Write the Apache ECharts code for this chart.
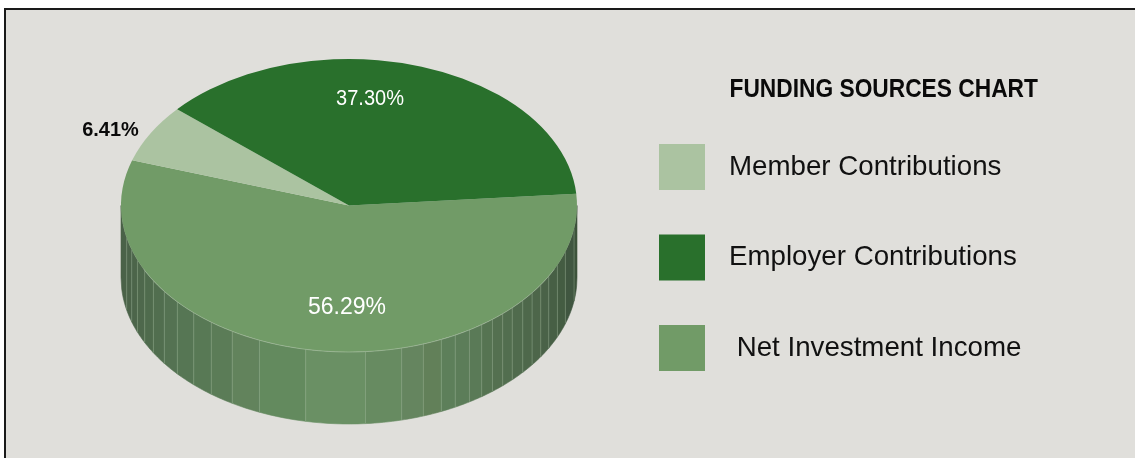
<!DOCTYPE html>
<html><head><meta charset="utf-8">
<style>html,body{margin:0;padding:0;background:#fff}#c{width:1135px;height:458px}</style>
<script src="https://cdn.jsdelivr.net/npm/echarts@6/dist/echarts.min.js"></script>
</head><body><div id="c"></div>
<script>
const chartTitle = 'FUNDING SOURCES CHART';
const categories = ['Member Contributions', 'Employer Contributions', ' Net Investment Income'];
const shares = [6.41, 37.30, 56.29];
const shareLabels = ['6.41%', '37.30%', '56.29%'];
const sliceColors = ['#ABC3A1', '#29702C', '#719B67'];
const labelColors = ['#0a0a0a', '#ffffff', '#ffffff'];
const labelWeights = ['bold', 'normal', 'normal'];
const labelSizes = [21, 22, 23];
const labelScaleX = [0.95, 0.91, 1];
// label anchors, as offsets from the pie's centre
const labelDx = [-238.5, 21, -2];
const labelDy = [-75, -107, 102];
// decorative wall facets of the 3D rim: edges as fractions of the radius, shade per facet
const facetEdges = [-1,-.975,-.953,-.928,-.896,-.858,-.81,-.753,-.681,-.604,-.512,-.393,-.19,.072,.231,.326,.405,.466,.528,.582,.629,.674,.716,.762,.803,.841,.876,.914,.949,.987,1];
const facetShades = ['#4A6248','#4B6349','#4C654A','#4E684C','#4F6B4D','#516E4F','#547252','#567654','#587955','#5B7C57','#62835C','#638A5E','#6A9064','#678B61','#65855F','#628059','#5D7F5A','#5C7D59','#5A7A57','#567452','#547050','#526E4F','#506B4D','#4E684B','#4D664A','#4A6248','#475F45','#445C42','#405640','#3D533B'];

const CX = 349, CY = 205.5, RX = 228, RY = 146.5, DEPTH = 72;
const startAngle = 162; // degrees, measured counter-clockwise from +x, slices run clockwise
const total = shares.reduce((a, b) => a + b, 0);

function sliceAngles(i) {
  let before = 0;
  for (let k = 0; k < i; k++) before += shares[k];
  return [startAngle - before / total * 360, startAngle - (before + shares[i]) / total * 360];
}

const rimPt = (f, dy) => [CX + f * RX, CY + Math.sqrt(Math.max(0, 1 - f * f)) * RY + dy];

function wallChildren() {
  const kids = [];
  for (let i = 0; i < facetShades.length; i++) {
    const a = facetEdges[i], b = facetEdges[i + 1], pts = [], n = 8;
    for (let k = 0; k <= n; k++) pts.push(rimPt(a + (b - a) * k / n, 0));
    for (let k = n; k >= 0; k--) pts.push(rimPt(a + (b - a) * k / n, DEPTH));
    kids.push({ type: 'polygon', shape: { points: pts }, style: { fill: facetShades[i], stroke: facetShades[i], lineWidth: 0.6 } });
  }
  for (let i = 1; i < facetEdges.length - 1; i++) {
    kids.push({ type: 'line', shape: { x1: rimPt(facetEdges[i], 0)[0], y1: rimPt(facetEdges[i], 0)[1], x2: rimPt(facetEdges[i], 0)[0], y2: rimPt(facetEdges[i], DEPTH)[1] },
      style: { stroke: '#A8BEA1', lineWidth: 0.8, opacity: 0.5 } });
  }
  return kids;
}

function rimHighlight() {
  const pts = [];
  for (let k = 0; k <= 120; k++) pts.push(rimPt(-0.9 + 1.8 * k / 120, 0));
  return { type: 'polyline', shape: { points: pts }, z2: 3, style: { stroke: '#C4D4BD', fill: 'none', lineWidth: 0.7, opacity: 0.6 } };
}

function renderSlice(i) {
  return function () {
    const [a0, a1] = sliceAngles(i);
    const kids = i === 2 ? wallChildren() : [];
    kids.push({
      type: 'sector', x: CX, y: CY, scaleX: 1, scaleY: RY / RX,
      shape: { cx: 0, cy: 0, r0: 0, r: RX, startAngle: -a0 * Math.PI / 180, endAngle: -a1 * Math.PI / 180, clockwise: true },
      style: { fill: sliceColors[i] }
    });
    if (i === 2) kids.push(rimHighlight());
    kids.push({
      type: 'text', x: CX + labelDx[i], y: CY + labelDy[i], scaleX: labelScaleX[i], z2: 5,
      style: { text: shareLabels[i], fill: labelColors[i], fontFamily: '"Liberation Sans", Arial, sans-serif', fontSize: labelSizes[i], fontWeight: labelWeights[i], align: 'center', verticalAlign: 'middle' }
    });
    return { type: 'group', children: kids };
  };
}

// draw order: net income (with wall) first, so the darker slices sit above it
const drawOrder = [2, 0, 1];
const series = categories.map((name, i) => ({
  type: 'custom', name, coordinateSystem: 'none', silent: true,
  itemStyle: { color: sliceColors[i] },
  z: 3 + drawOrder.indexOf(i),
  data: [[shares[i]]],
  renderItem: renderSlice(i)
}));

const chart = echarts.init(document.getElementById('c'), null, { renderer: 'canvas' });
chart.setOption({
  animation: false,
  backgroundColor: '#ffffff',
  legend: {
    orient: 'vertical', left: 659, top: 144, padding: 0,
    itemWidth: 46, itemHeight: 46, itemGap: 44.5,
    icon: 'rect', selectedMode: false,
    data: categories,
    textStyle: { fontFamily: '"Liberation Sans", Arial, sans-serif', fontSize: 27.7, color: '#111111', padding: [0, 0, 0, 19] }
  },
  graphic: [{
    type: 'rect', z: -1, silent: true,
    shape: { x: 5, y: 9, width: 1140, height: 460 },
    style: { fill: '#E0DFDB', stroke: '#1a1a1a', lineWidth: 2 }
  }, {
    type: 'text', x: 729.5, y: 90, scaleX: 0.91, z: 10, silent: true,
    style: { text: chartTitle, fill: '#0a0a0a', fontFamily: '"Liberation Sans", Arial, sans-serif', fontSize: 25, fontWeight: 'bold', align: 'left', verticalAlign: 'middle' }
  }],
  series
});
</script></body></html>
